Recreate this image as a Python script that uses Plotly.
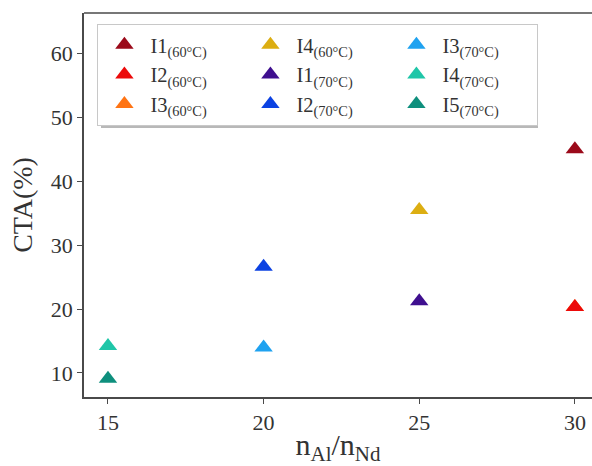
import plotly.graph_objects as go

series_names = ["I1<sub>(60°C)</sub>", "I2<sub>(60°C)</sub>", "I3<sub>(60°C)</sub>",
                "I4<sub>(60°C)</sub>", "I1<sub>(70°C)</sub>", "I2<sub>(70°C)</sub>",
                "I3<sub>(70°C)</sub>", "I4<sub>(70°C)</sub>", "I5<sub>(70°C)</sub>"]
ratio_al_nd = [30, 30, 30, 25, 25, 20, 20, 15, 15]
cta_percent = [45.0, 20.3, 20.3, 35.5, 21.2, 26.6, 14.0, 14.2, 9.1]
colors = ["#9b0a1a", "#ec0a0a", "#ff7414", "#dcae12", "#3f0f8f",
          "#0c42e2", "#1fa2f0", "#1fc6a8", "#0e8f7d"]
# legend is filled column by column in the reference (3 rows)
legend_rank = [1, 4, 7, 2, 5, 8, 3, 6, 9]
draw_order = [0, 2, 1, 3, 4, 5, 6, 7, 8]  # orange sits beneath red

x_ticks = [15, 20, 25, 30]
y_ticks = [10, 20, 30, 40, 50, 60]

font_family = "Liberation Serif, DejaVu Serif, serif"
axis_color = "#4a4a4a"

# plot area in pixels: x 84..592, y 13..397
def px_to_paper_x(p):
    return (p - 84) / 508

def px_to_paper_y(p):
    return 1 - (p - 13) / 384

fig = go.Figure()
for i in draw_order:
    fig.add_trace(go.Scatter(
        x=[ratio_al_nd[i]], y=[cta_percent[i]], mode="markers",
        name=series_names[i],
        marker=dict(symbol="triangle-up", size=16, color=colors[i], line=dict(width=0)),
        legendrank=(legend_rank.index(i + 1) + 1) * 10,
    ))

fig.update_layout(
    width=592, height=466,
    margin=dict(l=84, r=0, t=13, b=69),
    paper_bgcolor="white", plot_bgcolor="white",
    font=dict(family=font_family, size=22, color="#333333"),
    showlegend=True,
    legend=dict(
        orientation="h", x=0.026, y=0.972, xanchor="left", yanchor="top",
        entrywidth=89, entrywidthmode="pixels", itemwidth=42,
        bgcolor="white", bordercolor="#c8c8c8", borderwidth=1.2,
        font=dict(family=font_family, size=20.5, color="#333333"),
        traceorder="normal",
    ),
    xaxis=dict(
        range=[14.23, 30.55], tickvals=x_ticks, ticktext=[str(v) for v in x_ticks],
        showgrid=False, zeroline=False, showline=True, linecolor=axis_color, linewidth=1.5,
        ticks="outside", ticklen=5, tickcolor=axis_color, tickwidth=1,
        title=dict(text="n<sub>Al</sub>/n<sub>Nd</sub>", font=dict(size=30), standoff=4),
        mirror=False,
    ),
    yaxis=dict(
        range=[6.24, 66.3], tickvals=y_ticks, ticktext=[str(v) for v in y_ticks],
        showgrid=False, zeroline=False, showline=True, linecolor=axis_color, linewidth=1.5,
        ticks="outside", ticklen=5, tickcolor=axis_color, tickwidth=1,
        title=dict(text="CTA(%)", font=dict(size=28), standoff=10),
    ),
    shapes=[
        dict(type="line", xref="paper", yref="paper", x0=0, x1=1, y0=1, y1=1,
             line=dict(color=axis_color, width=1.5)),
        # soft drop shadow of the legend frame
        dict(type="rect", xref="paper", yref="paper", layer="above",
             x0=px_to_paper_x(101), x1=px_to_paper_x(538),
             y0=px_to_paper_y(128), y1=px_to_paper_y(28),
             fillcolor="#b8b8b8", line=dict(width=0)),
    ],
)

fig.write_html("out.html")
